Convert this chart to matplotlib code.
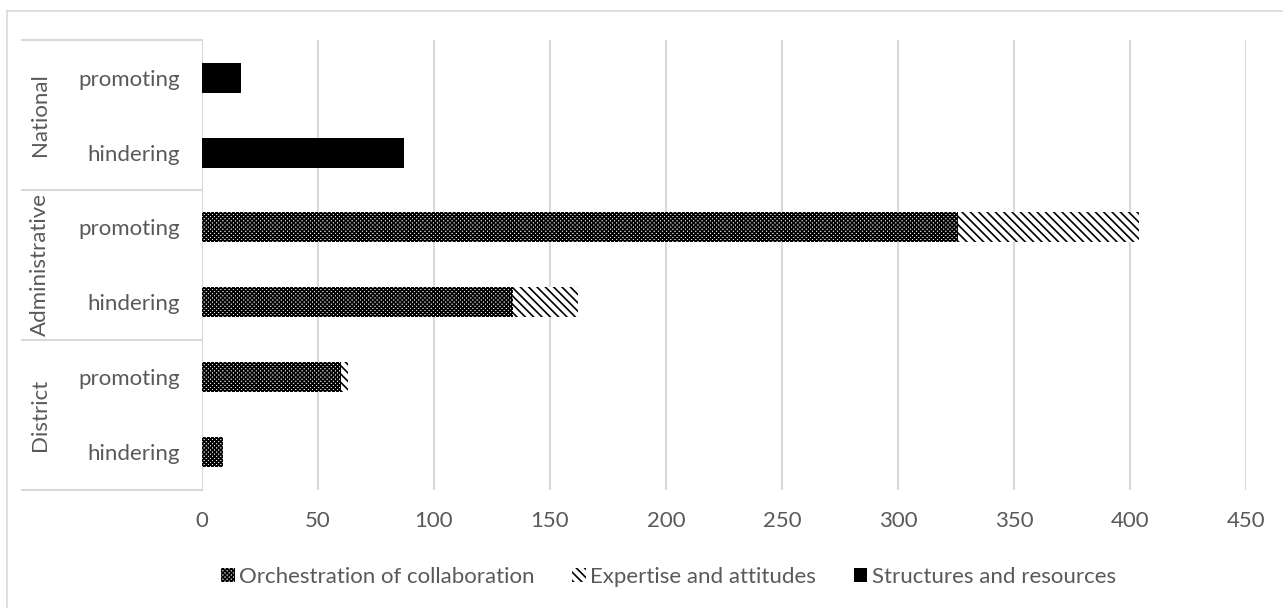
import matplotlib.pyplot as plt
import matplotlib.transforms as mtransforms

plt.rcParams["font.family"] = ["Lato", "DejaVu Sans"]
plt.rcParams["hatch.linewidth"] = 1.2

groups = ["District", "Administrative", "National"]
kinds = ["hindering", "promoting"]
row_labels = [k for g in groups for k in kinds]

orchestration = [9, 60, 134, 326, 0, 0]
expertise = [0, 3, 28, 78, 0, 0]
structures = [0, 0, 0, 0, 87, 17]

text_color = "#595959"
grid_color = "#d9d9d9"

fig = plt.figure(figsize=(12.83, 6.08), dpi=100, facecolor="white")
ax = fig.add_axes([0.1574, 0.1941, 0.8138, 0.7401])

y = list(range(len(row_labels)))
h = 0.4

ax.barh(y, orchestration, height=h, color="white", edgecolor="black",
        hatch="xxxxxxxx", linewidth=0, label="Orchestration of collaboration", zorder=3)
left2 = orchestration
ax.barh(y, expertise, left=left2, height=h, color="white", edgecolor="black",
        hatch="\\\\\\\\", linewidth=0, label="Expertise and attitudes", zorder=3)
left3 = [a + b for a, b in zip(orchestration, expertise)]
ax.barh(y, structures, left=left3, height=h, color="black", edgecolor="black",
        linewidth=0, label="Structures and resources", zorder=3)

ax.set_xlim(0, 450)
ax.set_ylim(-0.5, len(row_labels) - 0.5)
ax.set_xticks(range(0, 451, 50))
ax.set_yticks(y)
ax.set_yticklabels(row_labels)
ax.tick_params(axis="y", length=0, pad=16, labelsize=16, labelcolor=text_color)
ax.tick_params(axis="x", length=0, pad=15, labelsize=16, labelcolor=text_color)

ax.grid(axis="x", color=grid_color, linewidth=1.5, zorder=0)
ax.grid(axis="y", visible=False)
for s in ax.spines.values():
    s.set_visible(False)

# group separators and group labels
trans = mtransforms.blended_transform_factory(ax.transAxes, ax.transData)
for b in [-0.5, 1.5, 3.5, 5.5]:
    ax.plot([-0.172, 0], [b, b], color=grid_color, linewidth=1.5,
            transform=trans, clip_on=False)
for i, g in enumerate(groups):
    ax.text(-0.155, 2 * i + 0.5, g, transform=trans, rotation=90,
            ha="center", va="center", fontsize=16, color=text_color)

leg = fig.legend(loc="center", bbox_to_anchor=(0.521, 0.051), ncol=3,
                 frameon=False, fontsize=16, handlelength=0.6, handleheight=0.6,
                 handletextpad=0.2, columnspacing=1.7)
for t in leg.get_texts():
    t.set_color(text_color)

# outer chart border
fig.add_artist(plt.Line2D([0.0055, 1.0], [0.982, 0.982], color=grid_color,
                          linewidth=1.2, transform=fig.transFigure))
fig.add_artist(plt.Line2D([0.0055, 0.0055], [0.0, 0.982], color=grid_color,
                          linewidth=1.2, transform=fig.transFigure))

fig.savefig("out.png", dpi=100, facecolor="white")
